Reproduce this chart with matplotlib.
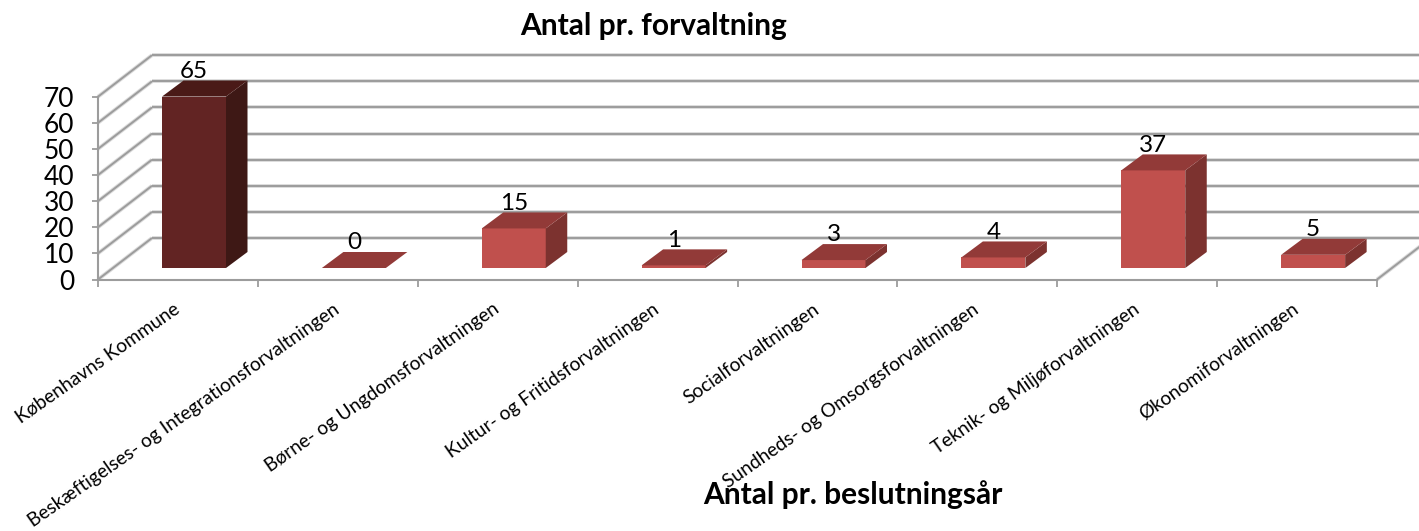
import matplotlib
matplotlib.use("Agg")
import matplotlib.pyplot as plt
from matplotlib.patches import Polygon

categories = ["Københavns Kommune", "Beskæftigelses- og Integrationsforvaltningen",
              "Børne- og Ungdomsforvaltningen", "Kultur- og Fritidsforvaltningen",
              "Socialforvaltningen", "Sundheds- og Omsorgsforvaltningen",
              "Teknik- og Miljøforvaltningen", "Økonomiforvaltningen"]
values = [65, 0, 15, 1, 3, 4, 37, 5]
y_ticks = [0, 10, 20, 30, 40, 50, 60, 70]

W, H = 1419, 531
L, R, B, T = 98, 1377, 279.5, 96.7
plt.rcParams['font.family'] = ['Lato', 'DejaVu Sans']
fig = plt.figure(figsize=(W / 100, H / 100), dpi=100, facecolor='white')
ax = fig.add_axes([L / W, 1 - B / H, (R - L) / W, (B - T) / H])
ax.set_xlim(0, len(categories))
ax.set_ylim(0, 70)
ax.patch.set_visible(False)

px = (R - L) / len(categories)
py = (B - T) / 70
DX, DY = 54 / px, 41.5 / py          # depth of the chart box
BDX, BDY = 21.5 / px, 16 / py        # depth of a bar
BAR_L, BAR_W = 64 / px, 64 / px      # bar placement in a category
BASE = 11.5 / py
K = 1.01
GRID = '#9C9C9C'
HALO = '#DCDCDC'


def gline(xs, ys, z=1):
    ax.plot(xs, ys, color=HALO, lw=2.8, clip_on=False, zorder=z, solid_capstyle='butt')
    ax.plot(xs, ys, color=GRID, lw=1.4, clip_on=False, zorder=z + .1, solid_capstyle='butt')


n = len(categories)
for v in y_ticks:
    gline([0, DX], [v, v + DY])
    gline([DX, n + DX], [v + DY, v + DY])
gline([n, n + DX], [0, DY])

colors = [('#622423', '#4A1A17', '#3E1815')] + [('#C0504D', '#923A38', '#7C322F')] * (n - 1)
for i, (v, (cf, ct, cs)) in enumerate(zip(values, colors)):
    x0, x1 = i + BAR_L, i + BAR_L + BAR_W
    y0, y1 = BASE, BASE + v * K
    ax.add_patch(Polygon([(x0, y0), (x1, y0), (x1, y1), (x0, y1)], fc=cf, ec='none', zorder=3, clip_on=False))
    ax.add_patch(Polygon([(x1, y0), (x1 + BDX, y0 + BDY), (x1 + BDX, y1 + BDY), (x1, y1)],
                         fc=cs, ec='none', zorder=3, clip_on=False))
    ax.add_patch(Polygon([(x0, y1), (x1, y1), (x1 + BDX, y1 + BDY), (x0 + BDX, y1 + BDY)],
                         fc=ct, ec='none', zorder=3, clip_on=False))
    ax.annotate(str(v), (x0 + BAR_W / 2, y1 + BDY), xytext=(0, -1), textcoords='offset points',
                ha='center', va='bottom', fontsize=17.5, color='black', zorder=5, annotation_clip=False)

for s in ['top', 'right']:
    ax.spines[s].set_visible(False)
for s in ['left', 'bottom']:
    ax.spines[s].set_color(GRID)
    ax.spines[s].set_linewidth(1.5)
ax.set_yticks(y_ticks)
ax.set_yticklabels([str(v) for v in y_ticks], fontsize=19)
ax.tick_params(axis='y', length=4.5, width=1.3, color=GRID, pad=12.5)
ax.set_xticks(range(n + 1))
ax.set_xticklabels([])
ax.tick_params(axis='x', which='major', length=5, width=1.3, color=GRID)
ax.set_xticks([i + 0.47 for i in range(n)], minor=True)
ax.set_xticklabels(categories, minor=True, rotation=35, ha='right', va='top',
                   rotation_mode='anchor', fontsize=13.8)
ax.tick_params(axis='x', which='minor', length=0, pad=15)

fig.text(653.5 / W, 1 - 26 / H, "Antal pr. forvaltning", ha='center', va='center',
         fontsize=21.5, fontweight='bold')
fig.text(853 / W, 1 - 495 / H, "Antal pr. beslutningsår", ha='center', va='center',
         fontsize=21.5, fontweight='bold', zorder=10)
fig.savefig("out.png", dpi=100)
